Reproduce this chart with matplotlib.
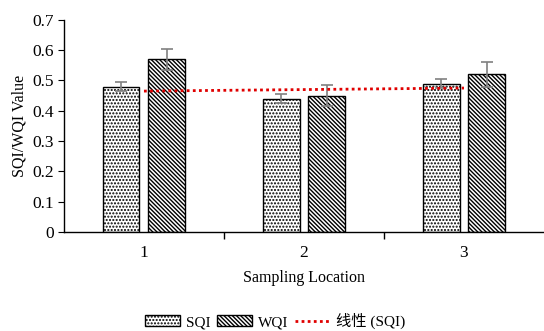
import numpy as np
import matplotlib.pyplot as plt
from matplotlib.ticker import FixedLocator

locations = ['1', '2', '3']
sqi = [0.48, 0.44, 0.49]
sqi_err = [0.015, 0.015, 0.015]
wqi = [0.57, 0.45, 0.52]
wqi_err = [0.035, 0.035, 0.04]

plt.rcParams['font.family'] = ['Liberation Serif', 'Noto Sans CJK SC']
plt.rcParams['hatch.linewidth'] = 1.0

fig = plt.figure(figsize=(5.44, 3.31), dpi=100)
ax = fig.add_axes([0.1176, 0.299, 0.8824, 0.641])

x = np.arange(1, len(locations) + 1)
w = 0.23
off = 0.143
b1 = ax.bar(x - off, sqi, w, color='white', edgecolor='black', hatch='.....', linewidth=1.0, label='SQI')
b2 = ax.bar(x + off, wqi, w, color='white', edgecolor='black', hatch='\\\\\\\\\\\\\\\\', linewidth=1.0, label='WQI')
ax.errorbar(x - off, sqi, yerr=sqi_err, fmt='none', ecolor='#808080', capsize=4, elinewidth=1.2, capthick=1.2)
ax.errorbar(x + off, wqi, yerr=wqi_err, fmt='none', ecolor='#808080', capsize=4, elinewidth=1.2, capthick=1.2)

# linear trend of SQI
k, b = np.polyfit(x, sqi, 1)
ln, = ax.plot(x, k * x + b, color='#e00000', linestyle=(0, (1, 1.2)), linewidth=2, label='线性 (SQI)')

ax.set_xlim(0.5, 3.5)
ax.set_ylim(0, 0.7)
ax.set_yticks(np.arange(0, 0.71, 0.1))
ax.set_yticklabels(['0', '0.1', '0.2', '0.3', '0.4', '0.5', '0.6', '0.7'])
ax.set_xticks(x)
ax.set_xticklabels(locations)
ax.xaxis.set_minor_locator(FixedLocator([1.5, 2.5]))
ax.tick_params(axis='x', which='major', length=0, pad=9, labelsize=12.5)
ax.tick_params(axis='x', which='minor', length=5, direction='out', width=1)
ax.tick_params(axis='y', length=4, direction='out', labelsize=12.5, pad=3)
for s in ['top', 'right']:
    ax.spines[s].set_visible(False)
ax.spines['left'].set_linewidth(1)
ax.spines['bottom'].set_linewidth(1)

ax.set_xlabel('Sampling Location', fontsize=11.5, labelpad=7)
ax.set_ylabel('SQI/WQI Value', fontsize=11.5, labelpad=4)

ax.legend(handles=[b1, b2, ln], loc='center', bbox_to_anchor=(0.44, -0.42), ncol=3, frameon=False,
          fontsize=11, handlelength=2.3, handletextpad=0.4, columnspacing=0.4)

plt.savefig('out.png', dpi=100)
